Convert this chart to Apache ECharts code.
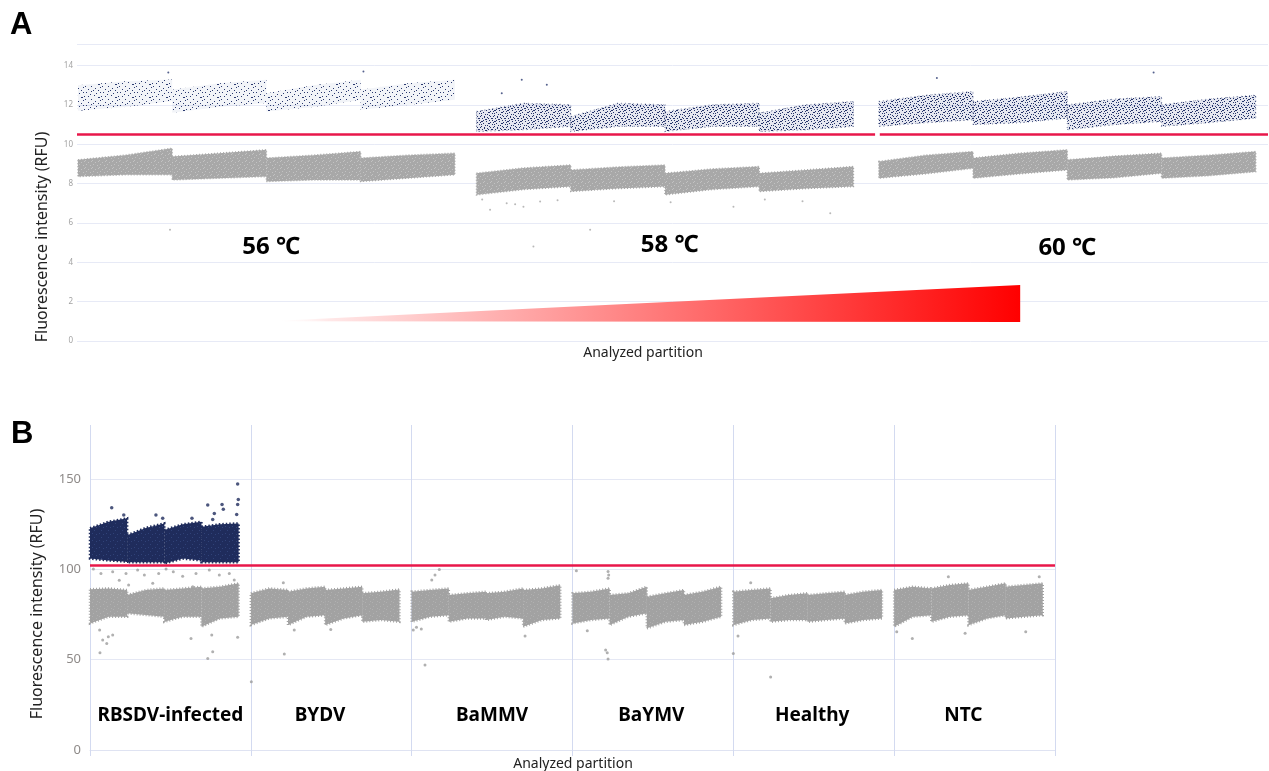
<!DOCTYPE html>
<html>
<head>
<meta charset="utf-8">
<title>ddPCR partitions</title>
<script src="https://cdn.jsdelivr.net/npm/echarts@6.0.0/dist/echarts.min.js"></script>
<style>
  html, body { margin: 0; padding: 0; background: #fff; }
  #chart { width: 1269px; height: 771px; }
</style>
</head>
<body>
<div id="chart"></div>
<script>
// ---- panel A : annealing temperature gradient, 4 wells per temperature ----
// band edges per well, read at well start / middle / end (RFU, thousands)
const aTemps = ['56 ℃', '58 ℃', '60 ℃'];
const aPosTop = [
  [[13.0, 13.2, 13.3], [12.77, 13.1, 13.28], [12.6, 13.0, 13.28], [12.77, 13.1, 13.28]],
  [[11.67, 12.09, 12.01], [11.41, 12.09, 12.01], [11.67, 12.01, 12.09], [11.59, 12.01, 12.18]],
  [[12.18, 12.5, 12.69], [12.18, 12.4, 12.69], [12.01, 12.3, 12.43], [12.01, 12.3, 12.5]]
];
const aPosBottom = [
  [[11.7, 11.9, 12.2], [11.6, 11.9, 12.1], [11.67, 11.9, 12.26], [11.76, 12.0, 12.26]],
  [[10.65, 10.74, 10.91], [10.65, 10.91, 10.91], [10.65, 10.91, 10.91], [10.65, 10.74, 10.91]],
  [[10.91, 11.1, 11.25], [11.0, 11.1, 11.33], [10.74, 11.0, 11.16], [10.91, 11.1, 11.33]]
];
const aNegTop = [
  [[9.21, 9.45, 9.8], [9.38, 9.55, 9.72], [9.3, 9.45, 9.63], [9.3, 9.45, 9.55]],
  [[8.53, 8.8, 8.95], [8.7, 8.85, 8.95], [8.53, 8.75, 8.87], [8.53, 8.7, 8.87]],
  [[9.13, 9.45, 9.63], [9.3, 9.55, 9.72], [9.21, 9.4, 9.55], [9.3, 9.45, 9.63]]
];
const aNegBottom = [
  [[8.36, 8.45, 8.45], [8.19, 8.28, 8.36], [8.11, 8.19, 8.19], [8.11, 8.28, 8.45]],
  [[7.43, 7.7, 7.85], [7.6, 7.75, 7.85], [7.43, 7.7, 7.85], [7.6, 7.75, 7.85]],
  [[8.28, 8.5, 8.78], [8.28, 8.5, 8.7], [8.19, 8.3, 8.53], [8.28, 8.4, 8.61]]
];
const aPosDots = [[0.969, 13.65], [3.04, 13.7], [4.508, 12.6], [4.72, 13.28], [4.986, 13.03], [11.426, 13.65], [9.126, 13.37]];
const aNegDots = [[0.987, 5.65], [4.56, 7.0], [4.915, 7.09], [4.384, 6.67], [4.738, 6.83], [5.446, 5.65], [4.844, 4.8],
  [7.994, 6.5], [6.967, 6.83], [4.3, 7.2], [4.65, 6.95], [5.1, 7.15], [5.7, 7.1], [6.3, 7.05], [7.3, 7.2], [7.7, 7.1]];
const aThreshold = 10.53;
const aTicks = [0, 2, 4, 6, 8, 10, 12, 14];
const aWedge = [[2.03, 1.0], [10.01, 2.85], [10.01, 0.97]];

// ---- panel B : specificity, 4 wells per sample (RFU) ----
const bCategories = ['RBSDV-infected', 'BYDV', 'BaMMV', 'BaYMV', 'Healthy', 'NTC'];
const bPosTop = [
  [[122.8, 126.4, 128.3], [119, 123, 125.5], [121.8, 125, 126.4], [123.6, 125, 125.5]]
];
const bPosBottom = [
  [[106, 105, 104.3], [104, 104, 104], [103.3, 106, 105], [104, 104, 104]]
];
const bNegTop = [
  [[89, 89.5, 88.6], [85.8, 88.6, 89.5], [88.6, 89.5, 90.4], [89.5, 90.4, 92.3]],
  [[86.8, 89.5, 88.6], [87.7, 89.5, 90.4], [88.6, 89.5, 90.4], [86.8, 87.7, 88.9]],
  [[87.7, 88.6, 89.5], [85.8, 86.8, 87.7], [86.8, 87.7, 89.5], [88.6, 89.5, 91.3]],
  [[86.8, 87.7, 89.5], [85.8, 86.8, 90.4], [84.9, 86.8, 88.6], [85.8, 87.7, 90.4]],
  [[87.7, 88.6, 89.5], [84, 85.8, 86.8], [85.8, 86.8, 87.7], [85.8, 87.7, 88.6]],
  [[88.6, 90.4, 89.5], [89.5, 91.4, 92.3], [88.6, 90.4, 92.3], [90.4, 91.4, 92.3]]
];
const bNegBottom = [
  [[70.1, 73.8, 73.8], [75.7, 74.8, 73.8], [71, 73.8, 73.8], [68.3, 72.9, 73.8]],
  [[69.2, 72.9, 73.8], [69.2, 73.8, 74.7], [69.2, 72.9, 74.7], [71, 72, 71]],
  [[71, 73.8, 74.7], [71, 72.9, 72.9], [72, 73.8, 72.9], [68.3, 72, 72.9]],
  [[70.1, 72, 72.9], [69.2, 73.8, 75.7], [67.4, 71, 72], [69.2, 71, 73.8]],
  [[69.2, 72, 72.9], [71, 72, 72], [71, 72, 72.9], [70.1, 72, 72.9]],
  [[68.3, 73.8, 74.7], [71, 73.8, 74.7], [69.2, 72.9, 74.7], [72.9, 73.8, 74.7]]
];
const bPosDots = [[0.918, 147.3], [0.922, 138.8], [0.918, 136], [0.732, 135.7], [0.821, 136], [0.135, 134.2],
  [0.829, 133.3], [0.773, 131], [0.912, 130.5], [0.763, 127.7], [0.21, 130.1], [0.41, 130.1], [0.452, 128.3], [0.634, 128.3]];
const bNegDots = [
  [0.062, 53.9], [0.763, 54.4], [0.732, 50.7], [0.628, 61.8], [0.918, 62.4], [0.079, 60.9], [0.104, 59], [0.141, 63.7],
  [0.757, 63.7], [0.06, 66.4], [0.114, 62.7], [0.021, 100.2], [0.068, 97.8], [0.141, 98.7], [0.224, 97.8], [0.296, 99.7],
  [0.338, 96.9], [0.427, 97.8], [0.473, 100.2], [0.518, 98.7], [0.576, 96.3], [0.659, 97.8], [0.742, 99.7], [0.804, 96.9],
  [0.866, 97.8], [0.897, 94.1], [0.24, 91.4], [0.182, 94], [0.39, 92.3], [0.639, 90.4],
  [1.208, 53.2], [1.27, 66.4], [1.497, 66.8], [1.202, 92.6], [1.003, 37.8],
  [2.125, 94.1], [2.145, 96.9], [2.172, 100], [2.01, 66.4], [2.705, 63.1], [2.083, 47.1], [2.03, 68], [2.06, 67],
  [3.221, 98.8], [3.225, 96.9], [3.221, 95.1], [3.206, 55.4], [3.216, 53.9], [3.221, 50.4], [3.092, 66.1], [3.024, 99.3],
  [4.029, 63.1], [4.108, 92.6], [4.232, 40.5], [4.0, 53.5],
  [5.113, 61.8], [5.441, 64.6], [5.818, 65.5], [5.337, 96], [5.902, 96], [5.016, 65.5]
];
const bThreshold = 102.6;

// layout of wells on the partition axis
const aGroupStart = [0.01, 4.24, 8.51], aWellW = 1.0, aXMax = 12.64;
const bWellW = 0.231;
const aTempLabelPos = [[2.06, 4.78], [6.29, 4.89], [10.51, 4.73]];
const bLabelX = [0.5, 1.43, 2.5, 3.49, 4.49, 5.43], bLabelY = 18.8;

// dotted fills so bands read like droplet clouds
function pattern(w, h, bg, dotColor, dots) {
  const c = document.createElement('canvas');
  c.width = w; c.height = h;
  const ctx = c.getContext('2d');
  if (bg) { ctx.fillStyle = bg; ctx.fillRect(0, 0, w, h); }
  ctx.fillStyle = dotColor;
  dots.forEach(function (d) { ctx.fillRect(d[0], d[1], d[2] || 1, d[3] || 1); });
  return { image: c, repeat: 'repeat' };
}
const navySparse = pattern(17, 13, 'rgba(40,60,130,0.06)', '#2b3a70', [
  [1, 1], [6, 0], [11, 2], [15, 1], [3, 5], [9, 4], [13, 6, 2, 1], [0, 8], [6, 8], [10, 10],
  [15, 9], [3, 11], [8, 12], [13, 12], [5, 3], [16, 5]]);
const navyMid = pattern(13, 11, 'rgba(40,60,130,0.12)', '#24336a', [
  [0, 0, 2, 1], [5, 0], [9, 1], [2, 2], [7, 2, 2, 1], [11, 3], [4, 4], [0, 5], [8, 5], [12, 6],
  [3, 6, 1, 2], [6, 7], [10, 8, 2, 1], [1, 8], [4, 9], [8, 10], [11, 10], [2, 10], [6, 4], [9, 6],
  [12, 1], [5, 9], [0, 3], [7, 8]]);
const navyDense = pattern(7, 7, '#1f2c5c', '#304278', [[1, 1], [5, 2], [3, 5]]);
const greyA = pattern(7, 7, '#a8a8a8', '#c2c2c2', [[0, 0], [4, 1], [2, 3], [6, 4], [1, 6]]);
const greyB = pattern(7, 7, '#a2a2a2', '#b0b0b0', [[1, 0], [5, 2], [2, 4], [6, 6]]);

function bandData(tops, bots, starts, wellW) {
  const out = [];
  tops.forEach(function (grp, g) {
    grp.forEach(function (t, w) {
      const b = bots[g][w];
      const x0 = starts[g] + w * wellW;
      out.push([x0, x0 + wellW, t[0], t[1], t[2], b[0], b[1], b[2], g]);
    });
  });
  return out;
}

function bandRenderer(styleFor) {
  return function (params, api) {
    const x0 = api.value(0), x1 = api.value(1);
    const xs = [x0, (x0 + x1) / 2, x1];
    const pts = [];
    for (let i = 0; i < 3; i++) pts.push(api.coord([xs[i], api.value(2 + i)]));
    for (let i = 2; i >= 0; i--) pts.push(api.coord([xs[i], api.value(5 + i)]));
    return { type: 'polygon', shape: { points: pts }, style: styleFor(api.value(8)) };
  };
}

// bold in-plot captions placed in data coordinates
function textRenderer(names, font) {
  return function (params, api) {
    const p = api.coord([api.value(0), api.value(1)]);
    return {
      type: 'text', x: p[0], y: p[1],
      style: { text: names[params.dataIndex], font: font, fill: '#000', align: 'center', verticalAlign: 'middle' }
    };
  };
}

const bStarts = bCategories.map(function (c, i) { return i; });
const redLine = { color: '#e8174a', width: 2.5, type: 'solid' };

let myChart = echarts.init(document.getElementById('chart'));
let option = {
  animation: false,
  backgroundColor: '#fff',
  textStyle: { fontFamily: "'Noto Sans', 'Noto Sans CJK SC', sans-serif" },
  grid: [
    { left: 77, top: 44, width: 1191, height: 297 },
    { left: 90, top: 425, width: 965, height: 325 }
  ],
  xAxis: [{
    gridIndex: 0, type: 'value', min: 0, max: aXMax,
    axisLine: { show: false }, axisTick: { show: false }, axisLabel: { show: false }, splitLine: { show: false }
  }, {
    gridIndex: 1, type: 'value', min: 0, max: bCategories.length, interval: 1,
    axisLine: { show: true, lineStyle: { color: '#dfe3f2', width: 1 } },
    axisTick: { show: true, length: 6, lineStyle: { color: '#d3daf0' } },
    axisLabel: { show: false },
    splitLine: { show: true, lineStyle: { color: '#d3daf0', width: 1 } }
  }],
  yAxis: [{
    gridIndex: 0, type: 'value', min: 0, max: 15.1, interval: 2,
    axisLine: { show: false }, axisTick: { show: false },
    axisLabel: {
      fontSize: 8, color: '#a3a3a3', margin: 4, showMaxLabel: false,
      formatter: function (v) { return aTicks.indexOf(v) >= 0 ? String(v) : ''; }
    },
    splitLine: { show: true, lineStyle: { color: '#e7eaf6', width: 1 } }
  }, {
    gridIndex: 1, type: 'value', min: 0, max: 180, interval: 50,
    axisLine: { show: false }, axisTick: { show: false },
    axisLabel: { fontSize: 13, color: '#8e8a88', margin: 9, showMaxLabel: false },
    splitLine: { show: true, showMaxLine: false, lineStyle: { color: '#e5e8f4', width: 1 } }
  }],
  series: [
    // ---- A ----
    {
      type: 'custom', xAxisIndex: 0, yAxisIndex: 0, silent: true,
      data: bandData(aNegTop, aNegBottom, aGroupStart, aWellW),
      renderItem: bandRenderer(function () {
        return { fill: greyA, stroke: '#a8a8a8', lineWidth: 1.5, lineDash: [1, 2] };
      }),
      markLine: {
        silent: true, symbol: 'none', label: { show: false },
        data: [
          [{ coord: [0, aThreshold], lineStyle: redLine }, { coord: [8.47, aThreshold] }],
          [{ coord: [8.52, aThreshold], lineStyle: redLine }, { coord: [aXMax, aThreshold] }],
          [{ coord: [0, 15.1], lineStyle: { color: '#e7eaf6', width: 1, type: 'solid' } }, { coord: [aXMax, 15.1] }]
        ]
      }
    },
    {
      type: 'custom', xAxisIndex: 0, yAxisIndex: 0, silent: true,
      data: bandData(aPosTop, aPosBottom, aGroupStart, aWellW),
      renderItem: bandRenderer(function (g) {
        return g === 0 ? { fill: navySparse } : { fill: navyMid, stroke: 'rgba(36,51,106,0.5)', lineWidth: 1.2, lineDash: [1, 3] };
      })
    },
    {
      type: 'scatter', xAxisIndex: 0, yAxisIndex: 0, silent: true, symbolSize: 2,
      itemStyle: { color: '#a6a6a6' }, data: aNegDots
    },
    {
      type: 'scatter', xAxisIndex: 0, yAxisIndex: 0, silent: true, symbolSize: 2,
      itemStyle: { color: '#2b3a70' }, data: aPosDots
    },
    {
      type: 'custom', xAxisIndex: 0, yAxisIndex: 0, silent: true, data: aWedge,
      renderItem: function (params, api) {
        if (params.dataIndex !== 0) return null;
        return {
          type: 'polygon',
          shape: { points: aWedge.map(function (p) { return api.coord(p); }) },
          style: {
            fill: new echarts.graphic.LinearGradient(0, 0, 1, 0, [
              { offset: 0, color: 'rgba(255,255,255,0)' },
              { offset: 0.08, color: 'rgba(255,232,232,1)' },
              { offset: 1, color: '#ff0000' }
            ])
          }
        };
      }
    },
    {
      type: 'custom', xAxisIndex: 0, yAxisIndex: 0, silent: true, z: 5,
      data: aTempLabelPos,
      renderItem: textRenderer(aTemps, "bold 24px 'Noto Sans', 'Noto Sans CJK SC', sans-serif")
    },
    // ---- B ----
    {
      type: 'custom', xAxisIndex: 1, yAxisIndex: 1, silent: true,
      data: bandData(bNegTop, bNegBottom, bStarts, bWellW),
      renderItem: bandRenderer(function () {
        return { fill: greyB, stroke: '#a2a2a2', lineWidth: 2.5, lineDash: [1, 2] };
      }),
      markLine: {
        silent: true, symbol: 'none', label: { show: false },
        data: [{ yAxis: bThreshold, lineStyle: redLine }]
      }
    },
    {
      type: 'custom', xAxisIndex: 1, yAxisIndex: 1, silent: true,
      data: bandData(bPosTop, bPosBottom, bStarts, bWellW),
      renderItem: bandRenderer(function () {
        return { fill: navyDense, stroke: '#1f2c5c', lineWidth: 2.5, lineDash: [1.5, 2] };
      })
    },
    {
      type: 'scatter', xAxisIndex: 1, yAxisIndex: 1, silent: true, symbolSize: 3,
      itemStyle: { color: '#9c9c9c' }, data: bNegDots
    },
    {
      type: 'scatter', xAxisIndex: 1, yAxisIndex: 1, silent: true, symbolSize: 3.5,
      itemStyle: { color: '#1f2c5c' }, data: bPosDots
    },
    {
      type: 'custom', xAxisIndex: 1, yAxisIndex: 1, silent: true, z: 5,
      data: bLabelX.map(function (x) { return [x, bLabelY]; }),
      renderItem: textRenderer(bCategories, "bold 19px 'Noto Sans', sans-serif")
    }
  ],
  graphic: [
    { type: 'text', left: 10, top: 10, style: { text: 'A', font: "bold 31px 'Liberation Sans', Arial, sans-serif", fill: '#000' } },
    { type: 'text', left: 11, top: 419, style: { text: 'B', font: "bold 31px 'Liberation Sans', Arial, sans-serif", fill: '#000' } },
    {
      type: 'text', x: 42, y: 237, rotation: Math.PI / 2,
      style: { text: 'Fluorescence intensity (RFU)', font: "16px 'Noto Sans', sans-serif", fill: '#222', align: 'center', verticalAlign: 'middle' }
    },
    {
      type: 'text', x: 37, y: 614, rotation: Math.PI / 2,
      style: { text: 'Fluorescence intensity (RFU)', font: "16px 'Noto Sans', sans-serif", fill: '#222', align: 'center', verticalAlign: 'middle' }
    },
    {
      type: 'text', x: 643, y: 353,
      style: { text: 'Analyzed partition', font: "14px 'Noto Sans', sans-serif", fill: '#222', align: 'center', verticalAlign: 'middle' }
    },
    {
      type: 'text', x: 573, y: 764,
      style: { text: 'Analyzed partition', font: "14px 'Noto Sans', sans-serif", fill: '#222', align: 'center', verticalAlign: 'middle' }
    }
  ]
};
myChart.setOption(option);
</script>
</body>
</html>
